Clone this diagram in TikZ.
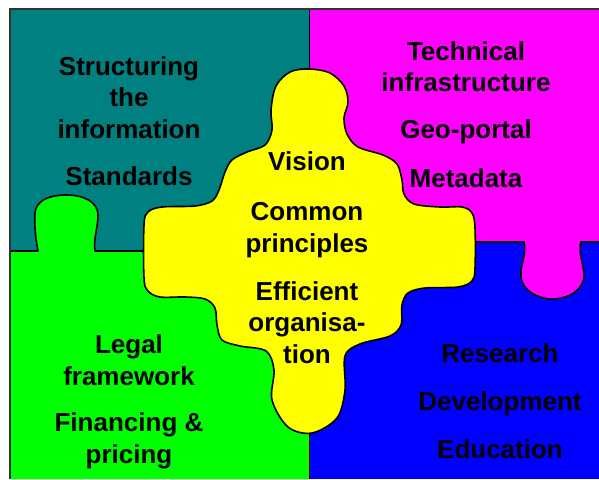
\documentclass[tikz,border=0pt]{standalone}
\usepackage{fontspec}
\setmainfont{Liberation Sans}
\definecolor{pteal}{RGB}{0,128,128}
\definecolor{pmagenta}{RGB}{255,0,255}
\definecolor{pyellow}{RGB}{255,255,0}
\definecolor{pgreen}{RGB}{0,255,0}
\definecolor{pblue}{RGB}{0,0,255}

\begin{document}
\begin{tikzpicture}[x=1pt, y=-1pt,
    piece/.style={draw=black, line width=1.6pt, line join=round},
    seam/.style={draw=black, line width=1pt},
    words/.style={align=center, anchor=base, inner sep=0pt,
      font=\bfseries\fontsize{26}{31.5}\selectfont}]
  \useasboundingbox (0,0) rectangle (599,479);

  % corner pieces
  \fill[pteal] (10,9) rectangle (309,251);
  \fill[pmagenta] (309,9) rectangle (599,242);
  \fill[pblue] (309,242) rectangle (599,479);
  \fill[pgreen] (10,251) -- (38,251)
    .. controls (36,240) and (34,225) .. (35,213)
    .. controls (36,200) and (50,195) .. (66,195)
    .. controls (84,195) and (98,202) .. (98,215)
    .. controls (98,228) and (93,240) .. (95,251)
    -- (309,251) -- (309,479) -- (10,479) -- cycle;
  \fill[pmagenta] (524,242)
    .. controls (527,255) and (520,265) .. (521,276)
    .. controls (522,292) and (540,299) .. (552,299)
    .. controls (568,299) and (585,290) .. (584,274)
    .. controls (583,262) and (578,252) .. (581,242) -- cycle;

  % seams
  \draw[seam] (309,9) -- (309,479);
  \draw[piece] (10,251) -- (38,251)
    .. controls (36,240) and (34,225) .. (35,213)
    .. controls (36,200) and (50,195) .. (66,195)
    .. controls (84,195) and (98,202) .. (98,215)
    .. controls (98,228) and (93,240) .. (95,251) -- (150,251);
  \draw[piece] (460,242) -- (524,242)
    .. controls (527,255) and (520,265) .. (521,276)
    .. controls (522,292) and (540,299) .. (552,299)
    .. controls (568,299) and (585,290) .. (584,274)
    .. controls (583,262) and (578,252) .. (581,242) -- (599,242);
  \draw[line width=1.4pt, black!80] (10,479) -- (10,9) -- (599,9);

  % centre piece
  \filldraw[fill=pyellow, piece] plot[smooth cycle, tension=0.55] coordinates {
    (271,110) (276,86) (290,72) (309,69) (330,73) (344,86) (348,102)
    (344,118) (347,134) (358,147) (383,155) (397,164) (402,180) (404,194)
    (414,204) (440,207) (462,207) (472,213) (475,228) (475,268) (472,281)
    (458,287) (425,288) (408,293) (402,305) (401,325) (390,336) (360,344)
    (345,356) (345,390) (337,418) (312,433) (288,427) (272,400) (274,370)
    (266,351) (240,346) (222,340) (217,325) (215,308) (205,299) (185,297)
    (160,297) (148,291) (144,278) (144,225) (148,212) (162,207) (195,206)
    (212,201) (219,190) (225,172) (232,160) (247,152) (265,145) (272,130)};

  % texts
  \node[words] (structure) at (129,185) {Structuring\\the\\information\\[15.5pt]Standards};
  \node[words] (technical) at (466,187) {Technical\\infrastructure\\[15.5pt]Geo-portal\\[17pt]Metadata};
  \node[words] (vision) at (307,363) {Vision\\[18.5pt]Common\\principles\\[16.5pt]Efficient\\organisa-\\tion};
  \node[words] (legal) at (129,463) {Legal\\framework\\[15pt]Financing \&\\pricing};
  \node[words] (research) at (500,458) {Research\\[16.5pt]Development\\[16.5pt]Education};
\end{tikzpicture}
\end{document}
